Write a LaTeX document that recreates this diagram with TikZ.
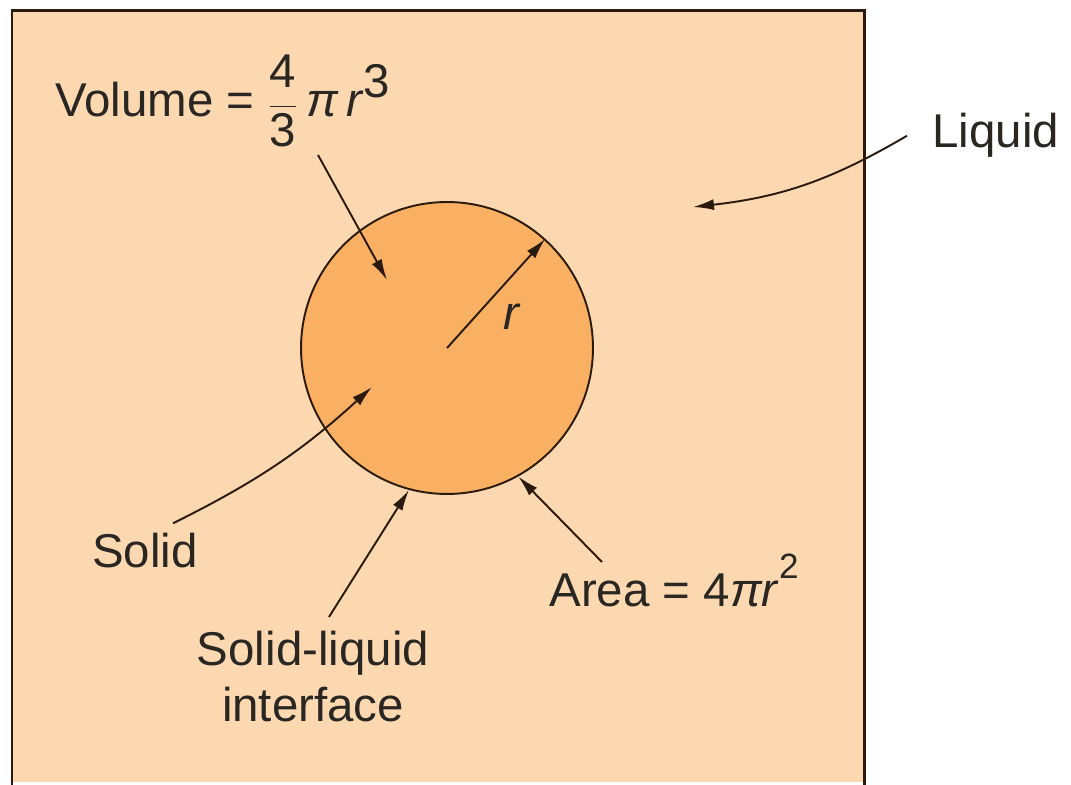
\documentclass[tikz,border=0pt]{standalone}
\usepackage{fontspec}
\setmainfont{Liberation Sans}
\usepackage{tikz}
\usetikzlibrary{arrows.meta,positioning,calc}
\definecolor{lqFill}{HTML}{FCD8B1}
\definecolor{sdFill}{HTML}{F9B062}
\definecolor{lnDark}{HTML}{2B1A0E}
\definecolor{txDark}{HTML}{2A2622}
\tikzset{
  lbl/.style   = {font=\fontsize{27}{32}\selectfont, text=txDark, inner sep=0pt, align=center},
  ar/.style    = {-{Latex[length=4.2mm,width=2.2mm]}, draw=lnDark, line width=1.1pt},
  ball/.style  = {circle, draw=lnDark, fill=sdFill, line width=1.1pt,
                  minimum size=5.84cm, inner sep=0pt},
}

\begin{document}
\begin{tikzpicture}[x=0.02cm, y=0.02cm]
  \useasboundingbox (0,0) rectangle (1071,784);
  % liquid box, open at the bottom
  \fill[lqFill] (12,2) rectangle (864,773);
  \draw[lnDark, line width=1.7pt] (12,-5) |- (864,773) -- (864,-5);

  \node[ball] (sol) at (447,436) {};

  \node[lbl, anchor=base west] (vol)   at (55,667)
       {Volume = $\displaystyle\frac{\hbox{4}}{\hbox{3}}$\,\textit{π}\,\textit{r}\raisebox{0.42em}{3}};
  \node[lbl, anchor=base west] (liq)   at (932,636) {Liquid};
  \node[lbl, anchor=base west] (rlab)  at (503,454) {\textit{r}};
  \node[lbl, anchor=base west] (solid) at (92,216)  {Solid};
  \node[lbl, anchor=base west] (area)  at (549,177)
       {Area = 4\textit{πr}\raisebox{0.6em}{\fontsize{20}{20}\selectfont 2}};
  \node[lbl, anchor=north]     (ifc)   at (313,153) {Solid-liquid\\interface};

  \coordinate (volA) at (318,629);
  \coordinate (volT) at (387,504);
  \coordinate (solT) at (372,397);
  \coordinate (liqT) at (693,577);

  \draw[ar] (volA) -- (volT);
  \draw[ar] (sol.center) -- (sol.48);
  \draw[ar] ([shift={(28,10)}]solid.north) to[bend right=8] (solT);
  \draw[ar] ([shift={(16,14)}]ifc.north) -- (sol.255);
  \draw[ar] ($(area.base west)+(53,45)$) -- (sol.299);
  \draw[ar] ([xshift=-0.5cm]liq.west) to[bend left=12] (liqT);
\end{tikzpicture}
\end{document}
